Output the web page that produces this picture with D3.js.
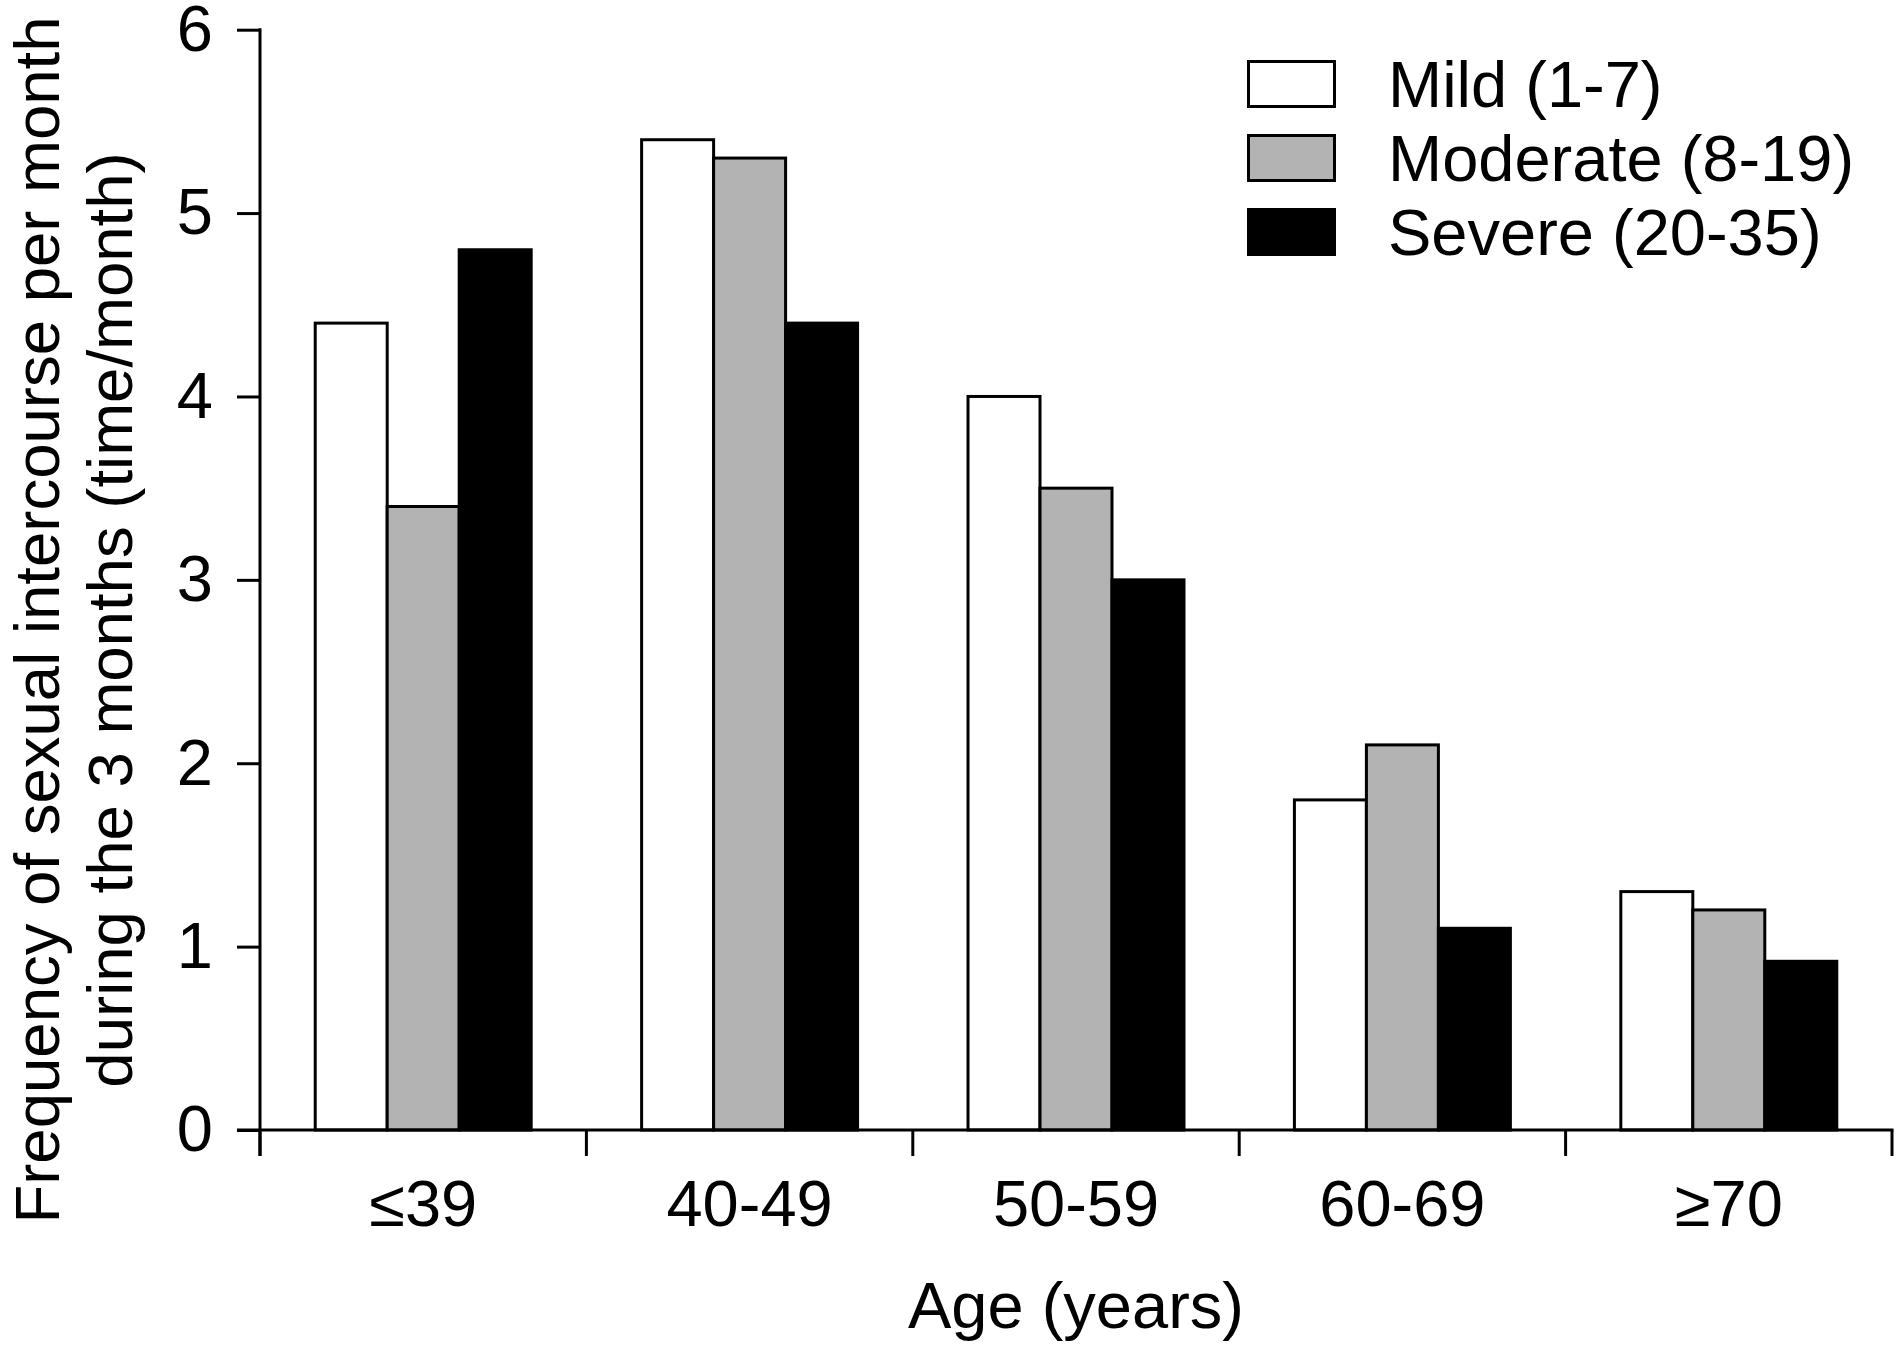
<!DOCTYPE html>
<html>
<head>
<meta charset="utf-8">
<script src="https://cdn.jsdelivr.net/npm/d3@7"></script>
<style>
  html, body { margin: 0; padding: 0; background: #fff; }
  svg { display: block; }
  text { font-family: "Liberation Sans", Arial, sans-serif; fill: #000; }
</style>
</head>
<body>
<svg id="chart" width="1901" height="1351"></svg>
<script>
// ---- data ----
const categories = ["\u226439", "40-49", "50-59", "60-69", "\u226570"];
const seriesNames = ["Mild (1-7)", "Moderate (8-19)", "Severe (20-35)"];
const mild = [4.4, 5.4, 4.0, 1.8, 1.3];
const moderate = [3.4, 5.3, 3.5, 2.1, 1.2];
const severe = [4.8, 4.4, 3.0, 1.1, 0.92];
const yTicks = [0, 1, 2, 3, 4, 5, 6];
const xTitle = "Age (years)";
const yTitleLines = ["Frequency of sexual intercourse per month", "during the 3 months (time/month)"];

const seriesValues = [mild, moderate, severe];
const fills = ["#ffffff", "#b3b3b3", "#000000"];

// ---- layout ----
const svg = d3.select("#chart");
const plotLeft = 260, plotRight = 1892, plotTop = 29.7, plotBottom = 1130;
const fontSize = 65;

const x0 = d3.scaleBand().domain(categories).range([plotLeft, plotRight]).padding(0);
const x1 = d3.scaleBand().domain(seriesNames).range([0, x0.bandwidth()]).paddingInner(0).paddingOuter(0.767);
const y = d3.scaleLinear().domain([0, 6]).range([plotBottom, plotTop]);

// bars
const rows = categories.map((c, i) => ({cat: c, vals: seriesNames.map((s, j) => ({s, j, v: seriesValues[j][i]}))}));
const g = svg.append("g");
const grp = g.selectAll("g.grp").data(rows).join("g")
  .attr("transform", d => `translate(${x0(d.cat)},0)`);
grp.selectAll("rect").data(d => d.vals).join("rect")
  .attr("x", d => x1(d.s))
  .attr("y", d => y(d.v))
  .attr("width", x1.bandwidth())
  .attr("height", d => y(0) - y(d.v))
  .attr("fill", d => fills[d.j])
  .attr("stroke", "#000")
  .attr("stroke-width", 3);

// y axis
const yAxis = d3.axisLeft(y).tickValues(yTicks).tickFormat(d3.format("d")).tickSize(23).tickPadding(24);
const ya = svg.append("g").attr("transform", `translate(${plotLeft},0)`).call(yAxis);
ya.select(".domain").remove();
ya.selectAll(".tick line").attr("stroke", "#000").attr("stroke-width", 3);
ya.selectAll(".tick text").style("font-size", fontSize + "px").attr("font-family", null).attr("fill", "#000");
svg.append("line").attr("x1", plotLeft).attr("x2", plotLeft).attr("y1", y(6) - 1.5).attr("y2", plotBottom + 26)
  .attr("stroke", "#000").attr("stroke-width", 3);

// x axis: baseline + boundary ticks
svg.append("line").attr("x1", plotLeft - 23).attr("x2", plotRight + 1.5).attr("y1", plotBottom).attr("y2", plotBottom)
  .attr("stroke", "#000").attr("stroke-width", 3);
const boundaries = categories.map(c => x0(c)).concat([plotRight]);
svg.selectAll("line.xt").data(boundaries).join("line").attr("class", "xt")
  .attr("x1", d => d).attr("x2", d => d).attr("y1", plotBottom).attr("y2", plotBottom + 26)
  .attr("stroke", "#000").attr("stroke-width", 3);
const xAxis = d3.axisBottom(x0).tickSize(0).tickPadding(50);
const xa = svg.append("g").attr("transform", `translate(0,${plotBottom})`).call(xAxis);
xa.select(".domain").remove();
xa.selectAll(".tick text").style("font-size", fontSize + "px").attr("font-family", null).attr("fill", "#000");

// axis titles
svg.append("text").attr("x", (plotLeft + plotRight) / 2).attr("y", 1328).attr("text-anchor", "middle")
  .style("font-size", fontSize + "px").text(xTitle);
const yt = svg.append("text").attr("transform", "translate(59,620) rotate(-90)").attr("text-anchor", "middle")
  .style("font-size", "63.5px");
yt.selectAll("tspan").data(yTitleLines).join("tspan")
  .attr("x", 0).attr("y", (d, i) => i * 73).text(d => d);

// legend
const leg = svg.append("g").attr("transform", "translate(1247,60)");
const li = leg.selectAll("g").data(seriesNames).join("g")
  .attr("transform", (d, i) => `translate(0,${i * 74})`);
li.append("rect").attr("x", 1.5).attr("y", 1.5).attr("width", 86).attr("height", 45)
  .attr("fill", (d, i) => fills[i]).attr("stroke", "#000").attr("stroke-width", 3);
li.append("text").attr("x", 141).attr("y", 24).attr("dy", "0.36em")
  .style("font-size", fontSize + "px").text(d => d);
</script>
</body>
</html>
